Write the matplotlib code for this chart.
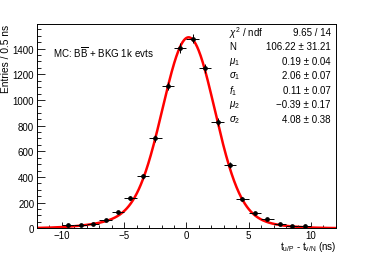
import matplotlib
matplotlib.use("Agg")
import matplotlib.pyplot as plt
import numpy as np
from matplotlib.ticker import MultipleLocator

plt.rcParams['font.family'] = ['Liberation Sans', 'DejaVu Sans']
plt.rcParams['mathtext.fontset'] = 'custom'
plt.rcParams['mathtext.rm'] = 'Liberation Sans'
plt.rcParams['mathtext.it'] = 'Liberation Sans:italic'

# Histogram bins (centres, ns) and contents
bin_centers = [-9.5, -8.5, -7.5, -6.5, -5.5, -4.5, -3.5, -2.5, -1.5, -0.5,
               0.5, 1.5, 2.5, 3.5, 4.5, 5.5, 6.5, 7.5, 8.5, 9.5]
entries = [26, 26, 36, 67, 124, 236, 404, 700, 1107, 1405,
           1478, 1247, 829, 494, 225, 116, 70, 34, 21, 21]
entry_errors = [5, 5, 6, 8, 11, 15, 20, 26, 33, 37,
                38, 35, 29, 22, 15, 11, 8, 6, 5, 5]
bin_half_width = 0.5

# Fit parameters (double gaussian), amplitude of the core chosen to match the peak
fit_amp = 1342
mu1, sigma1 = 0.19, 2.06
f1 = 0.11
mu2, sigma2 = -0.39, 4.08

stat_labels = [r'$\chi^2$ / ndf', 'N', r'$\mu_1$', r'$\sigma_1$', r'$f_1$',
               r'$\mu_2$', r'$\sigma_2$']
stat_values = ['9.65 / 14', '106.22 \u00b1 31.21', '0.19 \u00b1 0.04',
               '2.06 \u00b1 0.07', '0.11 \u00b1 0.07', '\u22120.39 \u00b1 0.17',
               '4.08 \u00b1 0.38']

fig = plt.figure(figsize=(3.74, 2.55), dpi=100)
ax = fig.add_axes([0.099, 0.101, 0.799, 0.801])

# fit curve
xs = np.linspace(-12, 12, 600)
curve = fit_amp * (np.exp(-0.5 * ((xs - mu1) / sigma1) ** 2)
                   + f1 * np.exp(-0.5 * ((xs - mu2) / sigma2) ** 2))
ax.plot(xs, curve, color='#ff0000', linewidth=1.8, zorder=2)

# data points
ax.errorbar(bin_centers, entries, xerr=bin_half_width, yerr=entry_errors,
            fmt='o', color='black', markersize=2.4, elinewidth=0.7,
            capsize=0, zorder=3)

ax.set_xlim(-12, 12)
ax.set_ylim(0, 1592)

ax.xaxis.set_major_locator(MultipleLocator(5))
ax.xaxis.set_minor_locator(MultipleLocator(1))
ax.yaxis.set_major_locator(MultipleLocator(200))
ax.yaxis.set_minor_locator(MultipleLocator(50))
ax.tick_params(which='both', direction='in', top=False, right=False,
               labelsize=7, width=0.6, pad=2)
ax.tick_params(axis='x', which='both', pad=1.2)
ax.tick_params(which='major', axis='x', length=4.5)
ax.tick_params(which='minor', axis='x', length=2.5)
ax.tick_params(which='major', axis='y', length=6)
ax.tick_params(which='minor', axis='y', length=3)
for spine in ax.spines.values():
    spine.set_linewidth(0.7)

# axis titles, ROOT style (right / top aligned)
fig.text(0.898, 0.004, r'$\mathrm{t}_{\mathrm{u/P}}$ - $\mathrm{t}_{\mathrm{v/N}}$ (ns)',
         ha='right', va='bottom', fontsize=7)
fig.text(0.004, 0.902, 'Entries / 0.5 ns', rotation=90, ha='left', va='top',
         fontsize=7.3)

ax.text(0.055, 0.865, r'MC: B$\overline{\mathrm{B}}$ + BKG 1k evts',
        transform=ax.transAxes, ha='left', va='center', fontsize=7)

# statistics box
for i, (lab, val) in enumerate(zip(stat_labels, stat_values)):
    y = 0.961 - i * 0.071
    ax.text(0.642, y, lab, transform=ax.transAxes, ha='left', va='center',
            fontsize=7)
    ax.text(0.983, y, val, transform=ax.transAxes, ha='right', va='center',
            fontsize=7)

fig.savefig('out.png', dpi=100)
